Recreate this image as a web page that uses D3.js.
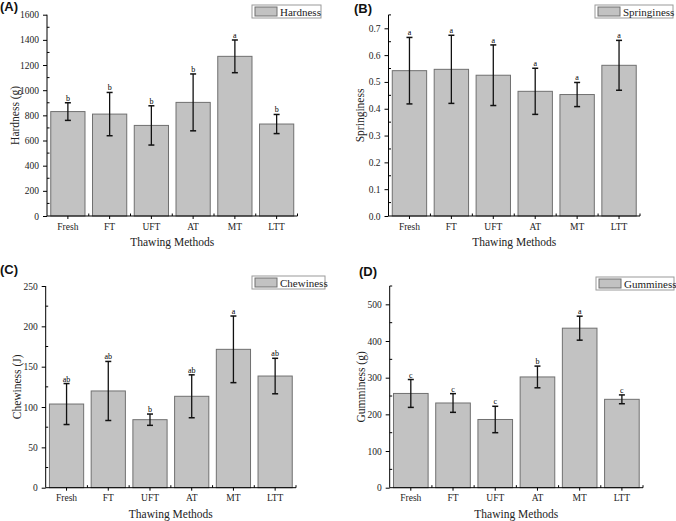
<!DOCTYPE html>
<html>
<head>
<meta charset="utf-8">
<script src="https://cdn.jsdelivr.net/npm/d3@7"></script>
<style>
  body { margin: 0; background: #fff; }
  svg { display: block; }
</style>
</head>
<body>
<div id="chart"></div>
<script>
// categories
var methods = ["Fresh", "FT", "UFT", "AT", "MT", "LTT"];

// hardness (g)
var hardness = [830, 810, 720, 903, 1269, 731];
var hardnessErr = [70, 172, 156, 226, 130, 76];
var hardnessLetters = ["b", "b", "b", "b", "a", "b"];
var hardnessTicks = [0, 200, 400, 600, 800, 1000, 1200, 1400, 1600];

// springiness
var springiness = [0.542, 0.547, 0.525, 0.465, 0.453, 0.562];
var springinessErr = [0.124, 0.127, 0.113, 0.086, 0.045, 0.093];
var springinessLetters = ["a", "a", "a", "a", "a", "a"];
var springinessTicks = [0, 0.1, 0.2, 0.3, 0.4, 0.5, 0.6, 0.7];

// chewiness (J)
var chewiness = [103.7, 119.9, 84.3, 113.3, 171.5, 138.4];
var chewinessErr = [25.4, 36.6, 7, 26.6, 41.3, 22];
var chewinessLetters = ["ab", "ab", "b", "ab", "a", "ab"];
var chewinessTicks = [0, 50, 100, 150, 200, 250];

// gumminess (g)
var gumminess = [257, 231, 186, 302, 435, 241];
var gumminessErr = [38, 25.5, 36, 29.6, 32.7, 12];
var gumminessLetters = ["c", "c", "c", "b", "a", "c"];
var gumminessTicks = [0, 100, 200, 300, 400, 500];

var barFill = "#c2c2c2";
var barStroke = "#707070";
var serif = "'Liberation Serif', 'Times New Roman', serif";

var svg = d3.select("#chart").append("svg")
	.attr("width", 676)
	.attr("height", 521);

function drawPanel(p) {
	var g = svg.append("g");

	var x = d3.scaleBand()
		.domain(methods)
		.range([p.left, p.right])
		.paddingInner(0.18)
		.paddingOuter(0.09);

	var y = d3.scaleLinear()
		.domain([0, p.max])
		.range([p.bottom, p.top]);

	// bars
	g.selectAll("rect.bar")
		.data(p.values)
		.enter()
		.append("rect")
		.attr("class", "bar")
		.attr("x", function(d, i) { return x(methods[i]); })
		.attr("y", function(d) { return y(d); })
		.attr("width", x.bandwidth())
		.attr("height", function(d) { return p.bottom - y(d); })
		.attr("fill", barFill)
		.attr("stroke", barStroke)
		.attr("stroke-width", 1);

	// error bars + letters
	var cap = 3;
	p.values.forEach(function(v, i) {
		var cx = x(methods[i]) + x.bandwidth() / 2;
		var hi = y(v + p.err[i]), lo = y(v - p.err[i]);
		g.append("line").attr("x1", cx).attr("x2", cx).attr("y1", hi).attr("y2", lo)
			.attr("stroke", "#111").attr("stroke-width", 1.3);
		g.append("line").attr("x1", cx - cap).attr("x2", cx + cap).attr("y1", hi).attr("y2", hi)
			.attr("stroke", "#111").attr("stroke-width", 1.5);
		g.append("line").attr("x1", cx - cap).attr("x2", cx + cap).attr("y1", lo).attr("y2", lo)
			.attr("stroke", "#111").attr("stroke-width", 1.5);
		g.append("text")
			.attr("x", cx)
			.attr("y", hi - 2)
			.attr("text-anchor", "middle")
			.attr("font-family", serif)
			.attr("font-size", "8px")
			.attr("fill", "#000")
			.text(p.letters[i]);
	});

	// y axis: major ticks outside, minor inside
	var yAxis = d3.axisLeft(y)
		.tickValues(p.ticks)
		.tickSize(4)
		.tickPadding(4)
		.tickFormat(p.fmt);
	var ya = g.append("g")
		.attr("transform", "translate(" + p.left + ",0)")
		.call(yAxis);
	ya.select(".domain").attr("d", "M0," + p.bottom + "V" + p.top);
	ya.selectAll("text").attr("font-family", serif).attr("font-size", "9.5px").attr("fill", "#222");

	var minor = [];
	for (var k = 0; k < p.ticks.length; k++) {
		var m = p.ticks[k] + p.minorStep;
		if (m < p.max + 1e-9) minor.push(m);
	}
	g.selectAll("line.yminor")
		.data(minor)
		.enter()
		.append("line")
		.attr("x1", p.left)
		.attr("x2", p.left + 2.5)
		.attr("y1", function(d) { return y(d); })
		.attr("y2", function(d) { return y(d); })
		.attr("stroke", "#000");

	// x axis
	var xAxis = d3.axisBottom(x).tickSize(3).tickPadding(4);
	var xa = g.append("g")
		.attr("transform", "translate(0," + p.bottom + ")")
		.call(xAxis);
	xa.select(".domain").attr("d", "M" + p.left + ",0H" + p.right);
	xa.selectAll("text").attr("font-family", serif).attr("font-size", "9.5px").attr("fill", "#222");

	g.selectAll("line.xminor")
		.data(d3.range(1, methods.length + 1))
		.enter()
		.append("line")
		.attr("x1", function(d) { return p.left + d * x.step(); })
		.attr("x2", function(d) { return p.left + d * x.step(); })
		.attr("y1", p.bottom)
		.attr("y2", p.bottom - 2.5)
		.attr("stroke", "#000");

	// axis titles
	g.append("text")
		.attr("x", (p.left + p.right) / 2)
		.attr("y", p.bottom + 30)
		.attr("text-anchor", "middle")
		.attr("font-family", serif)
		.attr("font-size", "11.5px")
		.attr("fill", "#222")
		.text("Thawing Methods");

	g.append("text")
		.attr("transform", "translate(" + p.titleX + "," + ((p.top + p.bottom) / 2) + ") rotate(-90)")
		.attr("text-anchor", "middle")
		.attr("font-family", serif)
		.attr("font-size", "11.5px")
		.attr("fill", "#222")
		.text(p.yTitle);

	// legend
	var lg = g.append("g").attr("transform", "translate(" + p.legX + "," + p.legY + ")");
	lg.append("rect")
		.attr("width", p.legW).attr("height", 13)
		.attr("fill", "#fff").attr("stroke", "#9a9a9a");
	lg.append("rect")
		.attr("x", 3).attr("y", 2).attr("width", 22).attr("height", 9)
		.attr("fill", barFill).attr("stroke", barStroke);
	lg.append("text")
		.attr("x", 28).attr("y", 10.5)
		.attr("font-family", serif)
		.attr("font-size", "11px")
		.attr("fill", "#222")
		.text(p.name);

	// panel label
	g.append("text")
		.attr("x", p.labX).attr("y", p.labY)
		.attr("font-family", "'Liberation Sans', Arial, sans-serif")
		.attr("font-weight", "bold")
		.attr("font-size", "13px")
		.attr("fill", "#111")
		.text(p.label);
}

drawPanel({
	label: "(A)", labX: 0, labY: 11,
	name: "Hardness", yTitle: "Hardness (g)",
	values: hardness, err: hardnessErr, letters: hardnessLetters,
	ticks: hardnessTicks, minorStep: 100, max: 1600, fmt: d3.format("d"),
	left: 47, right: 297.5, bottom: 216, top: 14.7,
	titleX: 19, legX: 252, legY: 5, legW: 69
});

drawPanel({
	label: "(B)", labX: 354, labY: 13,
	name: "Springiness", yTitle: "Springiness",
	values: springiness, err: springinessErr, letters: springinessLetters,
	ticks: springinessTicks, minorStep: 0.05, max: 0.75, fmt: d3.format(".1f"),
	left: 388.5, right: 640, bottom: 216, top: 14.9,
	titleX: 364, legX: 595, legY: 5, legW: 78
});

drawPanel({
	label: "(C)", labX: 0, labY: 274,
	name: "Chewiness", yTitle: "Chewiness (J)",
	values: chewiness, err: chewinessErr, letters: chewinessLetters,
	ticks: chewinessTicks, minorStep: 25, max: 250, fmt: d3.format("d"),
	left: 45.7, right: 296, bottom: 487.7, top: 286,
	titleX: 21, legX: 252, legY: 276, legW: 73
});

drawPanel({
	label: "(D)", labX: 359, labY: 276,
	name: "Gumminess", yTitle: "Gumminess (g)",
	values: gumminess, err: gumminessErr, letters: gumminessLetters,
	ticks: gumminessTicks, minorStep: 50, max: 550, fmt: d3.format("d"),
	left: 389.7, right: 643, bottom: 487.7, top: 286,
	titleX: 365, legX: 596, legY: 277, legW: 78
});
</script>
</body>
</html>
